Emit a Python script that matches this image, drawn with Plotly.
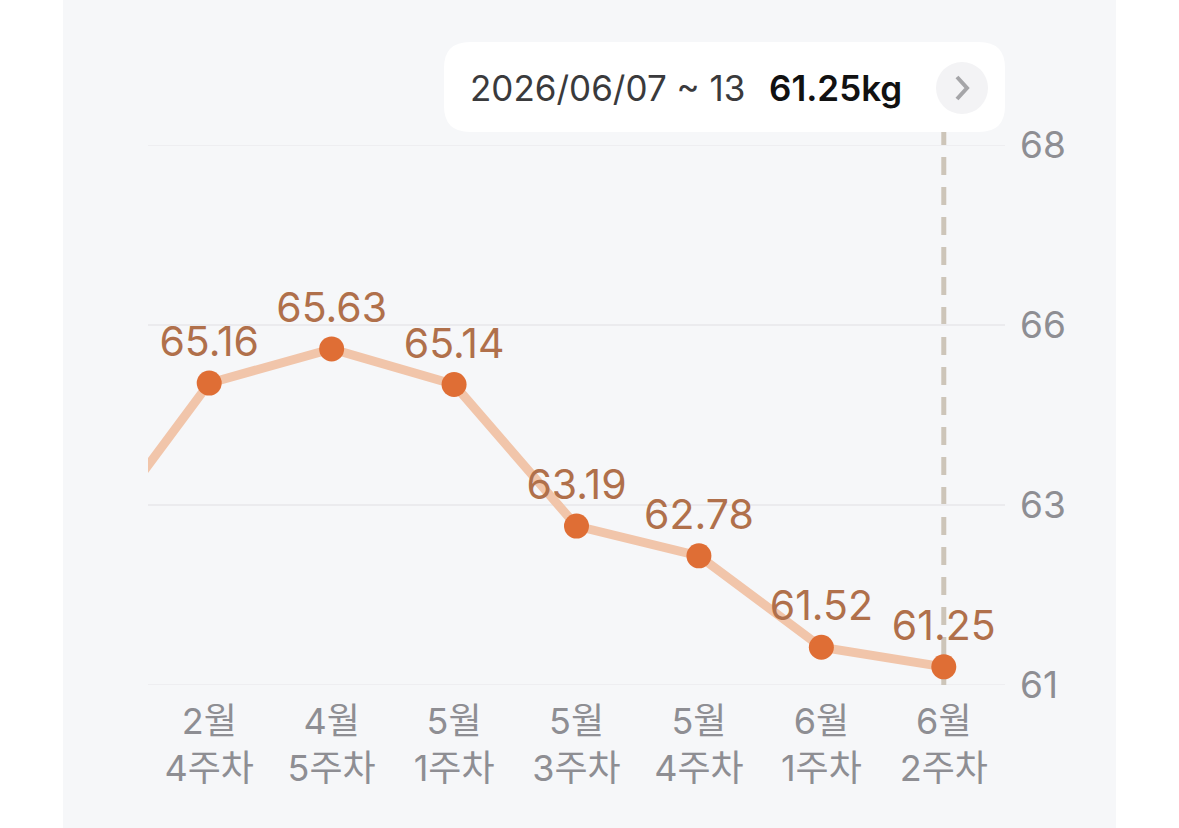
import plotly.graph_objects as go
import numpy as np

# ---- data ----
weeks = ["2월<br>3주차", "2월<br>4주차", "4월<br>5주차", "5월<br>1주차",
         "5월<br>3주차", "5월<br>4주차", "6월<br>1주차", "6월<br>2주차"]
weights = [62.89, 65.16, 65.63, 65.14, 63.19, 62.78, 61.52, 61.25]
y_min, y_max = 61, 68.44
y_tick_text = ["61", "63", "66", "68"]
selected_range = "2026/06/07 ~ 13"
selected_value = weights[-1]

# ---- layout geometry ----
W, H = 1179, 828
ML, MR, MT, MB = 148, 174, 145, 143
PW, PH = W - ML - MR, H - MT - MB


def px(x):
    return (x - ML) / PW


def py(y):
    return (H - MB - y) / PH


FONT = "Inter, 'Noto Sans CJK KR', 'Noto Sans', sans-serif"
GRAY_BG = "#f6f7f9"
GRID = "#ebebee"

fig = go.Figure()
fig.add_trace(go.Scatter(
    x=weeks, y=weights,
    mode="lines+markers+text",
    line=dict(color="#f1c5aa", width=9),
    marker=dict(color="#df6e35", size=25, line=dict(width=0)),
    text=[f"{v:.2f}" for v in weights],
    textposition="top center",
    textfont=dict(family=FONT, size=41, color="#b0704b"),
    cliponaxis=True,
    hoverinfo="skip",
))

# rounded tooltip box
bx0, bx1, by0, by1, r = 444, 1005, 42, 132, 26
path = (f"M {px(bx0 + r)} {py(by0)} L {px(bx1 - r)} {py(by0)} "
        f"Q {px(bx1)} {py(by0)} {px(bx1)} {py(by0 + r)} "
        f"L {px(bx1)} {py(by1 - r)} Q {px(bx1)} {py(by1)} {px(bx1 - r)} {py(by1)} "
        f"L {px(bx0 + r)} {py(by1)} Q {px(bx0)} {py(by1)} {px(bx0)} {py(by1 - r)} "
        f"L {px(bx0)} {py(by0 + r)} Q {px(bx0)} {py(by0)} {px(bx0 + r)} {py(by0)} Z")

cx, cy, cr = 962, 88, 26
chev = (f"M {px(cx - 5)} {py(cy - 11)} L {px(cx + 5)} {py(cy)} "
        f"L {px(cx - 5)} {py(cy + 11)}")

edge_grid = [dict(type="line", xref="paper", yref="y", layer="below",
                  x0=0, x1=1, y0=v, y1=v, line=dict(color=GRID, width=1.5))
             for v in (y_min, y_max)]

fig.update_layout(
    width=W, height=H,
    margin=dict(l=ML, r=MR, t=MT, b=MB),
    paper_bgcolor="white",
    plot_bgcolor=GRAY_BG,
    showlegend=False,
    font=dict(family=FONT),
    xaxis=dict(
        type="category", range=[0.5, len(weeks) - 0.5],
        showgrid=False, zeroline=False, showline=False, ticks="",
        tickfont=dict(family=FONT, size=36, color="#8e8e93"),
        ticklabelstandoff=12, fixedrange=True,
    ),
    yaxis=dict(
        range=[y_min, y_max], side="right",
        tickvals=list(np.linspace(y_min, y_max, len(y_tick_text))),
        ticktext=y_tick_text,
        showgrid=True, gridcolor=GRID, gridwidth=1.5,
        zeroline=False, showline=False, ticks="",
        tickfont=dict(family=FONT, size=37, color="#8e8e93"),
        ticklabelstandoff=14, fixedrange=True,
    ),
    shapes=[
        dict(type="rect", xref="paper", yref="paper", layer="below",
             x0=px(63), x1=px(1116), y0=py(H), y1=py(0),
             fillcolor=GRAY_BG, line=dict(width=0)),
        *edge_grid,
        dict(type="line", xref="x", yref="paper", layer="below",
             x0=weeks[-1], x1=weeks[-1], y0=0, y1=py(by1),
             line=dict(color="#cdc5b9", width=5, dash="18px,12px")),
        dict(type="path", xref="paper", yref="paper", path=path,
             fillcolor="white", line=dict(width=0)),
        dict(type="circle", xref="paper", yref="paper",
             x0=px(cx - cr), x1=px(cx + cr), y0=py(cy + cr), y1=py(cy - cr),
             fillcolor="#f3f3f5", line=dict(width=0)),
        dict(type="path", xref="paper", yref="paper", path=chev,
             line=dict(color="#a5a5a8", width=4)),
    ],
    annotations=[
        dict(xref="paper", yref="paper", x=px(468), y=py(88),
             xanchor="left", yanchor="middle", showarrow=False,
             text=selected_range,
             font=dict(family=FONT, size=35, color="#3a3a3c")),
        dict(xref="paper", yref="paper", x=px(767), y=py(88),
             xanchor="left", yanchor="middle", showarrow=False,
             text=f"{selected_value:.2f}kg",
             font=dict(family=FONT, size=35, color="#111111", weight=600)),
    ],
)

fig.write_html("out.html")
